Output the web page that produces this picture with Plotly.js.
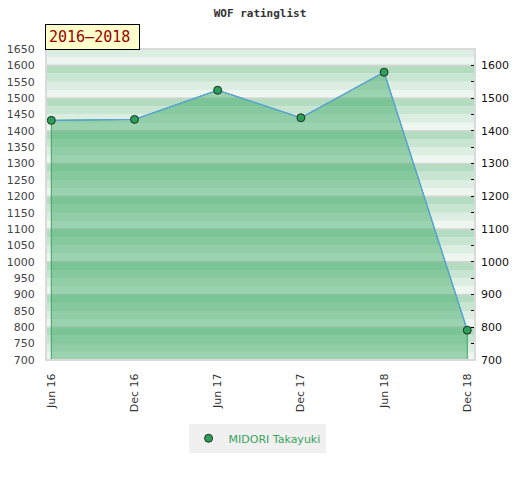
<!DOCTYPE html>
<html>
<head>
<meta charset="utf-8">
<script src="https://cdn.plot.ly/plotly-3.0.1.min.js"></script>
<style>html,body{margin:0;padding:0;background:#fff;}#chart{width:520px;height:480px;}</style>
</head>
<body>
<div id="chart"></div>
<script>
const categories = ["Jun 16", "Dec 16", "Jun 17", "Dec 17", "Jun 18", "Dec 18"];
const ratings = [1432, 1435, 1524, 1440, 1579, 791];
const playerName = "MIDORI Takayuki";
const chartTitle = "WOF ratinglist";
const periodLabel = "2016–2018";
const yMin = 700, yMax = 1650;

// background stripes (every 25 units, 4 shades per 100 block, darkest on top)
const stripeColors = ["#eef6f0", "#dcede2", "#c8e5d2", "#b3dcc1"];
const shapes = [];
for (let v = yMin; v < yMax; v += 25) {
  const idx = Math.round((v % 100) / 25);
  shapes.push({type: "rect", xref: "paper", yref: "y", x0: 0, x1: 1, y0: v, y1: v + 25,
    fillcolor: stripeColors[idx], line: {width: 0}, layer: "below"});
}
for (let v = yMin + 100 - (yMin % 100); v < yMax; v += 100) {
  shapes.push({type: "line", xref: "paper", yref: "y", x0: 0, x1: 1, y0: v, y1: v,
    line: {color: "#d6d6d6", width: 1.5}, layer: "below"});
}
shapes.push({type: "rect", xref: "paper", yref: "paper", x0: 0, x1: 1, y0: 0, y1: 1,
  line: {color: "#dadada", width: 2}, fillcolor: "rgba(0,0,0,0)", layer: "above"});

const idxs = categories.map((c, i) => i);
const fillX = [idxs[0]].concat(idxs, [idxs[idxs.length - 1]]);
const fillY = [yMin].concat(ratings, [yMin]);

const traces = [
  {x: fillX, y: fillY, type: "scatter", mode: "lines", fill: "toself",
   fillcolor: "rgba(57,168,98,0.46)", line: {color: "#3aa35f", width: 1},
   hoverinfo: "skip", showlegend: false},
  {x: idxs, y: ratings, type: "scatter", mode: "lines", showlegend: false,
   line: {color: "#5aa2dc", width: 1.3}},
  {x: idxs, y: ratings, type: "scatter", mode: "markers", name: playerName,
   marker: {color: "#2e9e58", size: 8, line: {color: "#1b3326", width: 1}}},
  {x: idxs, y: ratings, yaxis: "y2", type: "scatter", mode: "none", showlegend: false, hoverinfo: "skip"}
];

const layout = {
  width: 520, height: 480,
  margin: {l: 46, r: 45, t: 49, b: 120},
  paper_bgcolor: "#ffffff", plot_bgcolor: "#ffffff",
  title: {text: chartTitle, x: 0.5, xanchor: "center", y: 0.973, yanchor: "middle",
    font: {family: "DejaVu Sans Mono", size: 11, color: "#333", weight: "bold"}},
  xaxis: {range: [-0.064, 5.093], tickmode: "array", tickvals: idxs, ticktext: categories,
    tickangle: -90, showgrid: false, zeroline: false, showline: false,
    ticks: "outside", ticklen: 8, tickcolor: "rgba(0,0,0,0)",
    tickfont: {family: "DejaVu Sans", size: 11, color: "#333"}, fixedrange: true},
  yaxis: {range: [yMin, yMax], dtick: 50, tick0: 0, showgrid: false, zeroline: false, showline: false,
    ticks: "outside", ticklen: 8, tickcolor: "rgba(0,0,0,0)",
    tickfont: {family: "DejaVu Sans", size: 11, color: "#444"}, fixedrange: true},
  yaxis2: {range: [yMin, yMax], dtick: 100, tick0: 0, overlaying: "y", side: "right",
    showgrid: false, zeroline: false, showline: false,
    ticks: "inside", ticklen: 4, tickcolor: "#000", ticklabelstandoff: 5,
    minor: {dtick: 50, ticks: "inside", ticklen: 4, tickcolor: "#000"},
    tickfont: {family: "DejaVu Sans", size: 11, color: "#111"}, fixedrange: true},
  showlegend: true,
  legend: {orientation: "h", x: 0.492, xanchor: "center", y: -0.205, yanchor: "top",
    itemwidth: 30,
    bgcolor: "#f0f0f0", font: {family: "DejaVu Sans", size: 11, color: "#3aa35f"}},
  shapes: shapes,
  annotations: [{text: periodLabel, xref: "paper", yref: "paper", x: 0, y: 1,
    xanchor: "left", yanchor: "bottom", xshift: -1, yshift: -1, showarrow: false,
    width: 87, height: 18, align: "left",
    bgcolor: "#ffffcc", bordercolor: "#000", borderwidth: 1, borderpad: 3,
    font: {family: "DejaVu Sans Mono", size: 15, color: "#990000"}}]
};

Plotly.newPlot("chart", traces, layout, {displayModeBar: false, staticPlot: true});
</script>
</body>
</html>
